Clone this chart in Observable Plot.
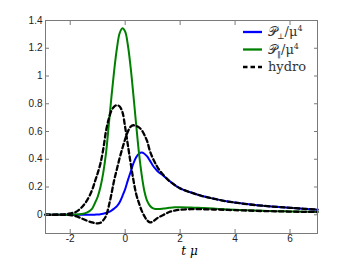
<!DOCTYPE html>
<html><head><meta charset="utf-8">
<script src="https://cdn.jsdelivr.net/npm/d3@7"></script>
<script src="https://cdn.jsdelivr.net/npm/@observablehq/plot@0.6"></script>
<style>body{margin:0;background:#fff}</style>
</head><body><div id="chart"></div>
<script>
const t = [-2.9,-2.5,-2.2,-2.0,-1.8,-1.6,-1.4,-1.2,-1.1,-1.0,-0.9,-0.8,-0.7,-0.6,-0.5,-0.4,-0.3,-0.2,-0.1,0.0,0.1,0.2,0.3,0.4,0.5,0.6,0.7,0.8,0.9,1.0,1.1,1.2,1.4,1.6,1.8,2.0,2.4,2.8,3.2,3.6,4.0,4.5,5.0,5.5,6.0,6.5,7.0];
const pPerp = [0,0,0,0,0,0,0,0,0.001,0.002,0.004,0.008,0.013,0.02,0.03,0.045,0.062,0.09,0.135,0.185,0.25,0.31,0.37,0.415,0.44,0.448,0.44,0.42,0.39,0.357,0.332,0.31,0.28,0.245,0.215,0.19,0.16,0.135,0.117,0.1,0.088,0.075,0.065,0.057,0.05,0.043,0.037];
const pPar = [0,0,0,0,0.002,0.005,0.015,0.045,0.085,0.13,0.2,0.3,0.44,0.64,0.85,1.04,1.2,1.31,1.345,1.32,1.22,1.06,0.86,0.65,0.45,0.29,0.17,0.1,0.065,0.048,0.042,0.041,0.045,0.05,0.054,0.055,0.053,0.049,0.045,0.04,0.036,0.032,0.029,0.026,0.024,0.022,0.02];
const hydroPar = [0,0,0.003,0.01,0.02,0.05,0.1,0.18,0.24,0.3,0.37,0.47,0.6,0.69,0.75,0.78,0.79,0.78,0.74,0.63,0.5,0.37,0.25,0.15,0.085,0.03,-0.01,-0.04,-0.055,-0.05,-0.035,-0.02,0.0,0.02,0.03,0.036,0.04,0.04,0.038,0.036,0.033,0.03,0.027,0.025,0.023,0.021,0.02];
const hydroPerp = [0,0,0,-0.002,-0.01,-0.025,-0.042,-0.055,-0.06,-0.062,-0.058,-0.04,-0.01,0.06,0.15,0.25,0.33,0.41,0.48,0.545,0.6,0.635,0.645,0.64,0.63,0.61,0.575,0.53,0.46,0.41,0.37,0.335,0.285,0.245,0.215,0.19,0.16,0.135,0.117,0.1,0.088,0.075,0.065,0.057,0.05,0.043,0.037];

const xTicks = [-2,0,2,4,6];
const xTickLabels = ["-2","0","2","4","6"];
const yTicks = [0,0.2,0.4,0.6,0.8,1,1.2,1.4];
const yTickLabels = ["0","0.2","0.4","0.6","0.8","1","1.2","1.4"];

const seriesColors = {perp:"#0000ff", par:"#008000", hydroPar:"#000000", hydroPerp:"#000000"};
const legendLabels = [["𝒫","⊥","/μ","4"],["𝒫","‖","/μ","4"],["hydro"]];
const legendColors = ["#0000ff","#008000","#000000"];
const legendDash = [null,null,"4.5,3"];

const rows = t.map((v,i)=>({t:v, perp:pPerp[i], par:pPar[i], hydroPar:hydroPar[i], hydroPerp:hydroPerp[i]}));
const axisColor = "#7a7a7a";
const dash = "4.5,3";

const chart = Plot.plot({
  width: 350, height: 263,
  marginLeft: 45, marginRight: 33, marginTop: 20, marginBottom: 30,
  x: {domain: [-2.9, 7]},
  y: {domain: [-0.135, 1.4]},
  style: {fontFamily: "Liberation Sans, Arial, sans-serif", fontSize: "10px", color: "#222", background: "white"},
  marks: [
    Plot.line(rows, {x:"t", y:"perp", stroke: seriesColors.perp, strokeWidth: 2, curve: "catmull-rom"}),
    Plot.line(rows, {x:"t", y:"par", stroke: seriesColors.par, strokeWidth: 2, curve: "catmull-rom"}),
    Plot.line(rows, {x:"t", y:"hydroPar", stroke: "#000", strokeWidth: 2.3, strokeDasharray: dash, curve: "catmull-rom"}),
    Plot.line(rows, {x:"t", y:"hydroPerp", stroke: "#000", strokeWidth: 2.3, strokeDasharray: dash, curve: "catmull-rom"}),
    Plot.frame({stroke: axisColor}),
    Plot.axisX(xTicks, {anchor:"bottom", tickSize: -4, tickPadding: 5, stroke: axisColor, tickFormat: (d)=>xTickLabels[xTicks.indexOf(d)], label: null}),
    Plot.axisX(xTicks, {anchor:"top", tickSize: -4, stroke: axisColor, tickFormat: ()=>"", label: null}),
    Plot.axisY(yTicks, {anchor:"left", tickSize: -4, tickPadding: 7, stroke: axisColor, tickFormat: (d)=>yTickLabels[yTicks.indexOf(d)], label: null}),
    Plot.axisY(yTicks, {anchor:"right", tickSize: -4, stroke: axisColor, tickFormat: ()=>"", label: null}),
    Plot.text(["t μ"], {frameAnchor: "bottom", dy: 21, dx: 8, fontStyle: "italic", fontFamily: "DejaVu Serif, serif", fontSize: 12, fill: "#000"})
  ]
});
document.getElementById("chart").appendChild(chart);

// legend
const svg = d3.select(chart);
const lg = svg.append("g").attr("transform","translate(243,32)").attr("text-anchor","start");
legendLabels.forEach((parts,i)=>{
  const y = i*17.5;
  lg.append("line").attr("x1",0).attr("x2",19).attr("y1",y).attr("y2",y)
    .attr("stroke",legendColors[i]).attr("stroke-width",2.3)
    .attr("stroke-dasharray",legendDash[i]);
  const tx = lg.append("text").attr("x",25).attr("y",y+4).attr("text-anchor","start")
    .attr("font-family","DejaVu Serif, serif").attr("font-size",13).attr("fill","#333");
  if (parts.length===1) { tx.text(parts[0]); }
  else {
    tx.append("tspan").attr("font-family","DejaVu Sans, DejaVu Serif, serif").text(parts[0]);
    tx.append("tspan").attr("font-size",8).attr("dy",3).text(parts[1]);
    tx.append("tspan").attr("dy",-3).text(parts[2]);
    tx.append("tspan").attr("font-size",8).attr("dy",-5).text(parts[3]);
  }
});
</script>
</body></html>
